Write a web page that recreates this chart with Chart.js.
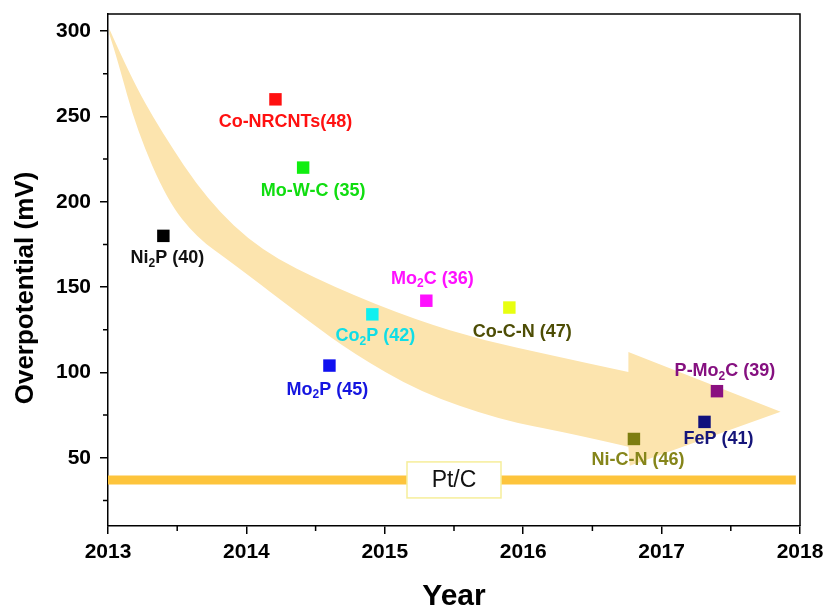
<!DOCTYPE html>
<html>
<head>
<meta charset="utf-8">
<script src="https://cdn.jsdelivr.net/npm/chart.js@4"></script>
<style>
  body { margin: 0; background: #fff; }
  canvas { display: block; }
</style>
</head>
<body>
<canvas id="chart" width="826" height="612"></canvas>
<script>
// HER overpotential vs. publication year
const years = [2013.40, 2014.21, 2014.41, 2014.91, 2014.60, 2015.30, 2015.90, 2016.80, 2017.31, 2017.40];
const overpotentials = [180, 260, 220, 134, 104, 142, 138, 61, 71, 89];
const materials = ["Ni_2P (40)", "Co-NRCNTs(48)", "Mo-W-C (35)", "Co_2P (42)", "Mo_2P (45)",
  "Mo_2C (36)", "Co-C-N (47)", "Ni-C-N (46)", "FeP (41)", "P-Mo_2C (39)"];
const markerColors = ["#000000", "#ff1010", "#10ee10", "#10f0f0", "#1010f0",
  "#ff10ff", "#e8ff10", "#7d7d10", "#10107d", "#8a1080"];
const textColors = ["#111111", "#ff1010", "#10dd10", "#10dde6", "#1515e0",
  "#ff10ff", "#4d4d05", "#85851a", "#15157a", "#851080"];

const ptcYears = [2013, 2017.97];
const ptcValue = [37, 37];

const xTicks = [2013, 2014, 2015, 2016, 2017, 2018];
const xMinor = [2013.5, 2014.5, 2015.5, 2016.5, 2017.5];
const yTicks = [50, 100, 150, 200, 250, 300];
const yMinor = [25, 75, 125, 175, 225, 275];

// outline of the trend arrow, in data units (upper edge, head, lower edge)
const arrowUpperX = [2013.01, 2013.16, 2013.38, 2013.72, 2014.10, 2014.63, 2015.23, 2015.71, 2016.19, 2016.76];
const arrowUpperY = [301.2, 273.7, 241.6, 200.7, 171.5, 149.9, 130.6, 118.9, 110.2, 100.2];
const arrowHeadX = [2016.76, 2017.86, 2016.77];
const arrowHeadY = [111.9, 76.9, 45.3];
const arrowLowerX = [2016.76, 2016.32, 2015.83, 2015.25, 2014.77, 2014.44, 2013.90, 2013.64, 2013.43, 2013.21, 2013.07, 2013.01];
const arrowLowerY = [56.4, 64.6, 72.2, 88.6, 111.3, 130.6, 163.9, 179.1, 200.7, 241.6, 282.5, 298.2];

// label offsets from the marker, px
const labelDx = [4, 10, 10, 3, -2, 6, 13, 4, 14, 8];
const labelDy = [22, 23, 23, 22, 24, -22, 24, 21, 17, -20];

const FONT = "Arial, 'Liberation Sans', sans-serif";

function drawRich(ctx, text, cx, cy, size, color) {
  const parts = text.split(/_(\d)/);
  const subSize = Math.round(size * 0.68);
  let total = 0;
  parts.forEach((p, i) => {
    ctx.font = `bold ${i % 2 ? subSize : size}px ${FONT}`;
    total += ctx.measureText(p).width;
  });
  let x = cx - total / 2;
  ctx.fillStyle = color;
  ctx.textAlign = "left";
  ctx.textBaseline = "middle";
  parts.forEach((p, i) => {
    const sub = i % 2 === 1;
    ctx.font = `bold ${sub ? subSize : size}px ${FONT}`;
    ctx.fillText(p, x, sub ? cy + size * 0.3 : cy);
    x += ctx.measureText(p).width;
  });
}

// smooth curve through points (quadratic via midpoints), assumes current point = pts[0]
function smoothTo(ctx, pts) {
  for (let i = 1; i < pts.length - 1; i++) {
    const mx = (pts[i][0] + pts[i + 1][0]) / 2;
    const my = (pts[i][1] + pts[i + 1][1]) / 2;
    ctx.quadraticCurveTo(pts[i][0], pts[i][1], mx, my);
  }
  const last = pts[pts.length - 1];
  ctx.lineTo(last[0], last[1]);
}

const arrowPlugin = {
  id: "arrow",
  beforeDatasetsDraw(chart) {
    const { ctx, scales: { x, y } } = chart;
    const toPx = (xs, ys) => xs.map((v, i) => [x.getPixelForValue(v), y.getPixelForValue(ys[i])]);
    const upper = toPx(arrowUpperX, arrowUpperY);
    const head = toPx(arrowHeadX, arrowHeadY);
    const lower = toPx(arrowLowerX, arrowLowerY);
    ctx.save();
    ctx.beginPath();
    ctx.moveTo(upper[0][0], upper[0][1]);
    smoothTo(ctx, upper);
    head.forEach((p) => ctx.lineTo(p[0], p[1]));
    ctx.lineTo(lower[0][0], lower[0][1]);
    smoothTo(ctx, lower);
    ctx.closePath();
    ctx.fillStyle = "#fce4ae";
    ctx.fill();
    ctx.restore();
  },
};

const decorPlugin = {
  id: "decor",
  afterDatasetsDraw(chart) {
    const { ctx, scales: { x, y } } = chart;
    ctx.save();

    // Pt/C box on the reference line
    const bx = x.getPixelForValue(2015.5);
    const by = y.getPixelForValue(ptcValue[0]);
    ctx.fillStyle = "#ffffff";
    ctx.fillRect(bx - 47, by - 18, 94, 36);
    ctx.strokeStyle = "#f6ee9a";
    ctx.lineWidth = 1.5;
    ctx.strokeRect(bx - 47, by - 18, 94, 36);
    ctx.fillStyle = "#111";
    ctx.font = `23px ${FONT}`;
    ctx.textAlign = "center";
    ctx.textBaseline = "middle";
    ctx.fillText("Pt/C", bx, by + 1);

    // point labels
    materials.forEach((m, i) => {
      const px = x.getPixelForValue(years[i]);
      const py = y.getPixelForValue(overpotentials[i]);
      drawRich(ctx, m, px + labelDx[i], py + labelDy[i], 18, textColors[i]);
    });
    ctx.restore();
  },
  afterDraw(chart) {
    const { ctx, chartArea: a, scales: { x, y } } = chart;
    ctx.save();
    ctx.strokeStyle = "#000";
    ctx.lineWidth = 1.5;
    ctx.beginPath();
    // frame top and right
    ctx.moveTo(a.left, a.top);
    ctx.lineTo(a.right, a.top);
    ctx.lineTo(a.right, a.bottom);
    // minor ticks
    yMinor.forEach((v) => {
      const py = y.getPixelForValue(v);
      ctx.moveTo(a.left, py);
      ctx.lineTo(a.left - 5, py);
    });
    xMinor.forEach((v) => {
      const px = x.getPixelForValue(v);
      ctx.moveTo(px, a.bottom);
      ctx.lineTo(px, a.bottom + 5);
    });
    ctx.stroke();

    // y axis title
    ctx.translate(26, 288);
    ctx.rotate(-Math.PI / 2);
    ctx.fillStyle = "#000";
    ctx.font = `bold 26px ${FONT}`;
    ctx.textAlign = "center";
    ctx.textBaseline = "middle";
    ctx.fillText("Overpotential (mV)", 0, 0);
    ctx.restore();
  },
};

const points = years.map((x, i) => ({ x, y: overpotentials[i] }));
const ptcLine = ptcYears.map((x, i) => ({ x, y: ptcValue[i] }));

new Chart(document.getElementById("chart"), {
  type: "scatter",
  data: {
    datasets: [
      {
        type: "line",
        data: ptcLine,
        borderColor: "#fdc43c",
        borderWidth: 9,
        pointRadius: 0,
        order: 2,
      },
      {
        data: points,
        pointStyle: "rect",
        pointRadius: 8.8,
        pointBackgroundColor: markerColors,
        pointBorderColor: markerColors,
        pointBorderWidth: 0,
        order: 1,
      },
    ],
  },
  options: {
    responsive: false,
    animation: false,
    layout: { padding: { left: 0, right: 26, top: 14, bottom: 0 } },
    plugins: {
      legend: { display: false },
      tooltip: { enabled: false },
    },
    scales: {
      x: {
        type: "linear",
        min: 2013,
        max: 2018,
        afterBuildTicks: (s) => { s.ticks = xTicks.map((v) => ({ value: v })); },
        afterFit: (s) => { s.height = 86; s.paddingLeft = 0; s.paddingRight = 0; },
        border: { color: "#000", width: 1.5 },
        grid: { drawOnChartArea: false, tickLength: 8, color: "#000", lineWidth: 1.5 },
        ticks: {
          padding: 6,
          color: "#000",
          maxRotation: 0,
          font: { family: FONT, size: 21, weight: "bold" },
          callback: (v) => String(v),
        },
        title: {
          display: true,
          text: "Year",
          color: "#000",
          padding: { top: 0, bottom: 0 },
          font: { family: FONT, size: 30, weight: "bold", lineHeight: 1 },
        },
      },
      y: {
        min: 10,
        max: 310,
        afterBuildTicks: (s) => { s.ticks = yTicks.map((v) => ({ value: v })); },
        afterFit: (s) => { s.width = 108; s.paddingTop = 0; s.paddingBottom = 0; },
        border: { color: "#000", width: 1.5 },
        grid: { drawOnChartArea: false, tickLength: 8, color: "#000", lineWidth: 1.5 },
        ticks: {
          padding: 9,
          color: "#000",
          font: { family: FONT, size: 21, weight: "bold" },
          callback: (v) => String(v),
        },
      },
    },
  },
  plugins: [arrowPlugin, decorPlugin],
});
</script>
</body>
</html>
